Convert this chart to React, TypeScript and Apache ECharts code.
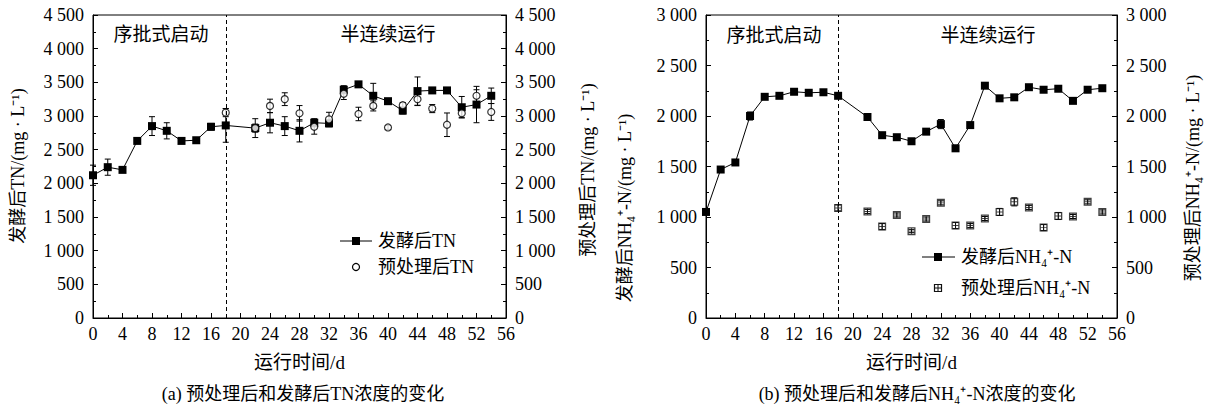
import React, { useEffect, useRef } from "react";
import * as echarts from "echarts";

const days = [0, 2, 4, 6, 8, 10, 12, 14, 16, 18, 22, 24, 26, 28, 30, 32, 34, 36, 38, 40, 42, 44, 46, 48, 50, 52, 54];
const preDays = [18, 22, 24, 26, 28, 30, 32, 34, 36, 38, 40, 42, 44, 46, 48, 50, 52, 54];

const tnFermented = [2120, 2240, 2200, 2630, 2850, 2780, 2630, 2640, 2840, 2860, 2820, 2900, 2850, 2780, 2900, 2890, 3390, 3470, 3300, 3220, 3080, 3370, 3380, 3380, 3130, 3170, 3300];
const tnFermentedErr = [150, 120, 30, 30, 140, 120, 30, 30, 50, 250, 60, 150, 140, 165, 60, 50, 60, 30, 185, 40, 50, 210, 40, 40, 160, 270, 115];
const tnPre = [3050, 2820, 3150, 3250, 3040, 2840, 2950, 3330, 3030, 3150, 2830, 3160, 3250, 3110, 2870, 3040, 3300, 3060];
const tnPreErr = [60, 140, 100, 95, 115, 110, 105, 85, 100, 75, 30, 40, 95, 60, 175, 60, 90, 125];

const nhFermented = [1050, 1470, 1540, 2000, 2190, 2200, 2240, 2230, 2235, 2200, 1990, 1810, 1790, 1750, 1845, 1920, 1680, 1910, 2300, 2175, 2185, 2285, 2260, 2270, 2150, 2260, 2275];
const nhFermentedErr = [20, 20, 20, 40, 20, 20, 20, 20, 20, 20, 20, 20, 20, 20, 20, 45, 30, 20, 20, 20, 20, 20, 20, 20, 20, 20, 20];
const nhPre = [1090, 1055, 905, 1020, 860, 980, 1140, 915, 915, 985, 1050, 1150, 1095, 895, 1010, 1005, 1150, 1050];
const nhPreErr = [30, 20, 30, 20, 15, 20, 20, 30, 20, 20, 35, 40, 20, 30, 35, 20, 20, 20];

const xTicks = { min: 0, max: 56, interval: 4 };

const FONT = '"Liberation Serif", "Noto Sans CJK SC", serif';
const GRID_SYMBOL =
  "path://M0,0H10V10H0Z M1.6,1.6V4.4H4.4V1.6Z M5.6,1.6V4.4H8.4V1.6Z M1.6,5.6V8.4H4.4V5.6Z M5.6,5.6V8.4H8.4V5.6Z";

function fmt(v: number) {
  if (v >= 1000) {
    const t = Math.floor(v / 1000);
    const r = String(v % 1000).padStart(3, "0");
    return `${t} ${r}`;
  }
  return String(v);
}

function errorBarRender(params: any, api: any) {
  const x = api.value(0);
  const lo = api.value(1);
  const hi = api.value(2);
  const top = api.coord([x, hi]);
  const bot = api.coord([x, lo]);
  const w = 3;
  const st = { stroke: "#000", lineWidth: 1 };
  return {
    type: "group",
    children: [
      { type: "line", shape: { x1: top[0], y1: top[1], x2: bot[0], y2: bot[1] }, style: st },
      { type: "line", shape: { x1: top[0] - w, y1: top[1], x2: top[0] + w, y2: top[1] }, style: st },
      { type: "line", shape: { x1: bot[0] - w, y1: bot[1], x2: bot[0] + w, y2: bot[1] }, style: st },
    ],
  };
}

function errData(xs: number[], vs: number[], es: number[]) {
  return xs.map((d, i) => [d, vs[i] - es[i], vs[i] + es[i]]);
}

function xAxisDef(gridIndex: number) {
  return {
    type: "value",
    gridIndex,
    ...xTicks,
    name: "运行时间/d",
    nameLocation: "middle",
    nameGap: 35,
    nameTextStyle: { fontSize: 19, fontFamily: FONT, color: "#000" },
    axisLine: { show: true, lineStyle: { color: "#000", width: 1 } },
    axisTick: { show: true, inside: true, length: 5, lineStyle: { color: "#000" } },
    minorTick: { show: true, splitNumber: 2, length: 3, lineStyle: { color: "#000" } },
    splitLine: { show: false },
    axisLabel: { fontSize: 18, fontFamily: FONT, color: "#000", margin: 7 },
  };
}

function yAxisDef(gridIndex: number, position: string, max: number) {
  return {
    type: "value",
    gridIndex,
    position,
    min: 0,
    max,
    interval: 500,
    axisLine: { show: true, lineStyle: { color: "#000", width: 1 } },
    axisTick: { show: true, inside: true, length: 5, lineStyle: { color: "#000" } },
    minorTick: { show: true, splitNumber: 2, length: 3, lineStyle: { color: "#000" } },
    splitLine: { show: false },
    axisLabel: { fontSize: 18, fontFamily: FONT, color: "#000", margin: 9, formatter: fmt },
  };
}

const dashLine = {
  silent: true,
  symbol: "none",
  label: { show: false },
  lineStyle: { type: [4, 3], color: "#000", width: 1 },
  data: [{ xAxis: 18 }],
};

function txt(x: number, y: number, text: string, size: number, extra: any = {}) {
  return {
    type: "text",
    x,
    y,
    ...extra,
    style: {
      text,
      fontSize: size,
      fontFamily: FONT,
      fill: "#000",
      align: extra.align || "center",
      verticalAlign: "middle",
      textAlign: extra.align || "center",
      textVerticalAlign: "middle",
    },
  };
}

export default function App() {
  const ref = useRef<HTMLDivElement>(null);
  useEffect(() => {
    if (!ref.current) return;
    const chart = echarts.init(ref.current, undefined, { renderer: "svg" });
    const option: any = {
      animation: false,
      backgroundColor: "#fff",
      grid: [
        { left: 93, right: 705, top: 15, bottom: 94, show: true, borderColor: "#000", borderWidth: 1, backgroundColor: "transparent" },
        { left: 706, right: 94, top: 15, bottom: 94, show: true, borderColor: "#000", borderWidth: 1, backgroundColor: "transparent" },
      ],
      xAxis: [xAxisDef(0), xAxisDef(1)],
      yAxis: [
        yAxisDef(0, "left", 4500),
        yAxisDef(0, "right", 4500),
        yAxisDef(1, "left", 3000),
        yAxisDef(1, "right", 3000),
      ],
      series: [
        {
          type: "custom",
          xAxisIndex: 0,
          yAxisIndex: 0,
          renderItem: errorBarRender,
          encode: { x: 0, y: [1, 2] },
          data: errData(days, tnFermented, tnFermentedErr),
          z: 1,
          silent: true,
        },
        {
          type: "custom",
          xAxisIndex: 0,
          yAxisIndex: 1,
          renderItem: errorBarRender,
          encode: { x: 0, y: [1, 2] },
          data: errData(preDays, tnPre, tnPreErr),
          z: 1,
          silent: true,
        },
        {
          name: "发酵后TN",
          type: "line",
          xAxisIndex: 0,
          yAxisIndex: 0,
          data: days.map((d, i) => [d, tnFermented[i]]),
          symbol: "rect",
          symbolSize: 8,
          itemStyle: { color: "#000" },
          lineStyle: { color: "#000", width: 1 },
          markLine: dashLine,
          z: 3,
        },
        {
          name: "预处理后TN",
          type: "scatter",
          xAxisIndex: 0,
          yAxisIndex: 1,
          data: preDays.map((d, i) => [d, tnPre[i]]),
          symbol: "circle",
          symbolSize: 7,
          itemStyle: { color: "#fff", borderColor: "#000", borderWidth: 1.2 },
          z: 4,
        },
        {
          type: "custom",
          xAxisIndex: 1,
          yAxisIndex: 2,
          renderItem: errorBarRender,
          encode: { x: 0, y: [1, 2] },
          data: errData(days, nhFermented, nhFermentedErr),
          z: 1,
          silent: true,
        },
        {
          type: "custom",
          xAxisIndex: 1,
          yAxisIndex: 3,
          renderItem: errorBarRender,
          encode: { x: 0, y: [1, 2] },
          data: errData(preDays, nhPre, nhPreErr),
          z: 1,
          silent: true,
        },
        {
          name: "发酵后NH₄⁺-N",
          type: "line",
          xAxisIndex: 1,
          yAxisIndex: 2,
          data: days.map((d, i) => [d, nhFermented[i]]),
          symbol: "rect",
          symbolSize: 8,
          itemStyle: { color: "#000" },
          lineStyle: { color: "#000", width: 1 },
          markLine: dashLine,
          z: 3,
        },
        {
          name: "预处理后NH₄⁺-N",
          type: "scatter",
          xAxisIndex: 1,
          yAxisIndex: 3,
          data: preDays.map((d, i) => [d, nhPre[i]]),
          symbol: GRID_SYMBOL,
          symbolSize: 8,
          itemStyle: { color: "#111" },
          z: 4,
        },
      ],
      graphic: [
        txt(161, 34, "序批式启动", 19),
        txt(388, 34, "半连续运行", 19),
        txt(774, 35, "序批式启动", 19),
        txt(988, 35, "半连续运行", 19),
        txt(18, 166, "发酵后TN/(mg · L⁻¹)", 18, { rotation: Math.PI / 2 }),
        txt(588, 170, "预处理后TN/(mg · L⁻¹)", 18, { rotation: Math.PI / 2 }),
        txt(625, 208, "发酵后NH₄⁺-N/(mg · L⁻¹)", 18, { rotation: Math.PI / 2 }),
        txt(1193, 178, "预处理后NH₄⁺-N/(mg · L⁻¹)", 18, { rotation: Math.PI / 2 }),
        txt(303, 394, "(a) 预处理后和发酵后TN浓度的变化", 18),
        txt(917, 394, "(b) 预处理后和发酵后NH₄⁺-N浓度的变化", 18),
        // legend (a)
        { type: "line", shape: { x1: 340, y1: 241, x2: 372, y2: 241 }, style: { stroke: "#000", lineWidth: 1 } },
        { type: "rect", shape: { x: 352, y: 237, width: 8, height: 8 }, style: { fill: "#000" } },
        txt(378, 241, "发酵后TN", 18, { align: "left" }),
        { type: "circle", shape: { cx: 356, cy: 267, r: 3.5 }, style: { fill: "#fff", stroke: "#000", lineWidth: 1.2 } },
        txt(378, 267, "预处理后TN", 18, { align: "left" }),
        // legend (b)
        { type: "line", shape: { x1: 922, y1: 257, x2: 955, y2: 257 }, style: { stroke: "#000", lineWidth: 1 } },
        { type: "rect", shape: { x: 934, y: 253, width: 8, height: 8 }, style: { fill: "#000" } },
        txt(961, 257, "发酵后NH₄⁺-N", 18, { align: "left" }),
        { type: "rect", shape: { x: 934.5, y: 284.5, width: 7, height: 7 }, style: { fill: "#fff", stroke: "#111", lineWidth: 1.2 } },
        { type: "line", shape: { x1: 938, y1: 284.5, x2: 938, y2: 291.5 }, style: { stroke: "#111", lineWidth: 1 } },
        { type: "line", shape: { x1: 934.5, y1: 288, x2: 941.5, y2: 288 }, style: { stroke: "#111", lineWidth: 1 } },
        txt(961, 288, "预处理后NH₄⁺-N", 18, { align: "left" }),
      ],
    };
    chart.setOption(option);
    return () => chart.dispose();
  }, []);
  return (
    <div
      ref={ref}
      style={{ position: "absolute", left: 0, top: 0, width: 1211, height: 412, background: "#fff" }}
    />
  );
}
